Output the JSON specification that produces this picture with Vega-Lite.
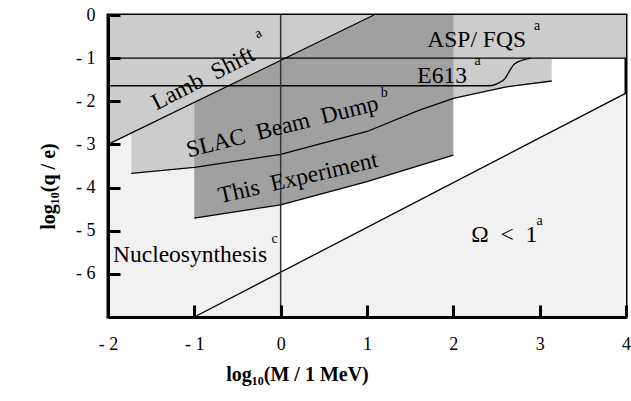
{
  "$schema": "https://vega.github.io/schema/vega-lite/v6.json",
  "width": 518,
  "height": 302,
  "autosize": {"type": "none"},
  "padding": {"left": 108, "top": 15, "right": 5, "bottom": 84},
  "background": "white",
  "config": {
    "view": {"stroke": "black", "strokeWidth": 3},
    "font": "Liberation Serif",
    "text": {"font": "Liberation Serif", "color": "black"}
  },
  "datasets": {
    "nucleo": [{"x": -2, "y": -7}, {"x": 0, "y": -7}],
    "omega": [{"x": -1, "y": -7}, {"x": 4, "y": -1.81}],
    "asp": [{"x": -2, "y": -1}, {"x": 4, "y": -1}],
    "slac": [
      {"x": -1.73, "y": -3.67}, {"x": -1, "y": -3.53}, {"x": 0, "y": -3.23},
      {"x": 1, "y": -2.7}, {"x": 1.6, "y": -2.21}, {"x": 2.0, "y": -1.93},
      {"x": 2.6, "y": -1.67}, {"x": 3.14, "y": -1.53}
    ],
    "dark": [{"x": -1, "y": -4.71}, {"x": 0, "y": -4.4}, {"x": 1, "y": -3.86}, {"x": 2, "y": -3.25}],
    "lamb": [{"x": -2, "y": -3.0}, {"x": 1.08, "y": 0}],
    "lines": [
      {"series": "slac", "x": -1.73, "y": -3.67}, {"series": "slac", "x": -1, "y": -3.53},
      {"series": "slac", "x": 0, "y": -3.23}, {"series": "slac", "x": 1, "y": -2.7},
      {"series": "slac", "x": 1.6, "y": -2.21}, {"series": "slac", "x": 2.0, "y": -1.93},
      {"series": "slac", "x": 2.6, "y": -1.67}, {"series": "slac", "x": 3.14, "y": -1.53},
      {"series": "dark", "x": -1, "y": -4.71}, {"series": "dark", "x": 0, "y": -4.4},
      {"series": "dark", "x": 1, "y": -3.86}, {"series": "dark", "x": 2, "y": -3.25},
      {"series": "lamb", "x": -2, "y": -3.0}, {"series": "lamb", "x": 1.08, "y": 0},
      {"series": "omega", "x": -1, "y": -7}, {"series": "omega", "x": 4, "y": -1.81},
      {"series": "h1", "x": -2, "y": -1}, {"series": "h1", "x": 4, "y": -1}
    ],
    "e613": [
      {"x": -2, "y": -1.64}, {"x": 2.42, "y": -1.64}, {"x": 2.51, "y": -1.59},
      {"x": 2.6, "y": -1.47}, {"x": 2.65, "y": -1.3}, {"x": 2.7, "y": -1.15},
      {"x": 2.78, "y": -1.06}, {"x": 2.9, "y": -1.0}
    ],
    "vline": [{"x": 0, "y": -7}, {"x": 0, "y": 0}],
    "flatText": [
      {"label": "ASP/ FQS", "x": 2.27, "y": -0.74},
      {"label": "E613", "x": 1.87, "y": -1.57},
      {"label": "Nucleosynthesis", "x": -1.05, "y": -5.72},
      {"label": "Ω\u00a0\u00a0<\u00a0\u00a01", "x": 2.59, "y": -5.25}
    ],
    "sups": [
      {"label": "a", "x": 2.97, "y": -0.35},
      {"label": "a", "x": 2.28, "y": -1.16},
      {"label": "c", "x": -0.07, "y": -5.28},
      {"label": "a", "x": 3.0, "y": -4.86},
      {"label": "b", "x": 1.2, "y": -1.9}
    ],
    "lambText": [{"label": "Lamb\u00a0\u00a0Shift", "x": -0.86, "y": -1.62}],
    "lambSup": [{"label": "a", "x": -0.24, "y": -0.51}],
    "slacText": [{"label": "SLAC\u00a0\u00a0Beam\u00a0\u00a0Dump", "x": 0.04, "y": -2.75}],
    "expText": [{"label": "This\u00a0\u00a0Experiment", "x": 0.22, "y": -3.94}]
  },
  "encoding": {
    "x": {
      "field": "x", "type": "quantitative",
      "scale": {"domain": [-2, 4], "nice": false, "zero": false},
      "axis": {
        "values": [-2, -1, 0, 1, 2, 3, 4],
        "labelExpr": "datum.value < 0 ? '- ' + (-datum.value) : '' + datum.value",
        "tickSize": -12, "tickWidth": 3, "tickColor": "black",
        "domainWidth": 3, "domainColor": "black",
        "labelFont": "Liberation Serif", "labelFontSize": 18, "labelColor": "black",
        "labelPadding": 30, "labelFlush": false, "labelOverlap": false,
        "grid": false, "zindex": 1,
        "title": "log₁₀(M / 1 MeV)",
        "titleFont": "Liberation Serif", "titleFontSize": 20, "titleFontWeight": "bold", "titleColor": "black",
        "titleX": 189, "titleY": 57, "titleAlign": "center", "titleBaseline": "middle", "titleAnchor": null
      }
    },
    "y": {
      "field": "y", "type": "quantitative",
      "scale": {"domain": [-7, 0], "nice": false, "zero": false},
      "axis": {
        "values": [-6, -5, -4, -3, -2, -1, 0],
        "labelExpr": "datum.value < 0 ? '- ' + (-datum.value) : '' + datum.value",
        "tickSize": -12, "tickWidth": 3, "tickColor": "black",
        "domainWidth": 3, "domainColor": "black",
        "labelFont": "Liberation Serif", "labelFontSize": 18, "labelColor": "black",
        "labelPadding": 25, "labelFlush": false, "labelOverlap": false,
        "grid": false, "zindex": 1,
        "title": "log₁₀(q / e)",
        "titleFont": "Liberation Serif", "titleFontSize": 20, "titleFontWeight": "bold", "titleColor": "black",
        "titleX": -60, "titleY": 171, "titleAngle": 270, "titleAlign": "center", "titleBaseline": "middle"
      }
    }
  },
  "layer": [
    {"data": {"name": "nucleo"}, "mark": {"type": "area", "color": "#f1f1f1"}, "encoding": {"y2": {"datum": 0}}},
    {"data": {"name": "omega"}, "mark": {"type": "area", "color": "#f1f1f1"}, "encoding": {"y2": {"datum": -7}}},
    {"data": {"name": "asp"}, "mark": {"type": "area", "color": "#cccccc"}, "encoding": {"y2": {"datum": 0}}},
    {"data": {"name": "slac"}, "mark": {"type": "area", "color": "#cccccc"}, "encoding": {"y2": {"datum": 0}}},
    {"data": {"name": "dark"}, "mark": {"type": "area", "color": "#a0a0a0"}, "encoding": {"y2": {"datum": 0}}},
    {"data": {"name": "lamb"}, "mark": {"type": "area", "color": "#cccccc"}, "encoding": {"y2": {"datum": 0}}},
    {"data": {"name": "lines"}, "mark": {"type": "line", "color": "black", "strokeWidth": 1.3}, "encoding": {"detail": {"field": "series"}}},
    {"data": {"name": "e613"}, "mark": {"type": "line", "color": "black", "strokeWidth": 1.3, "interpolate": "monotone"}, "encoding": {}},
    {"data": {"name": "vline"}, "mark": {"type": "line", "color": "#333333", "strokeWidth": 1.5}, "encoding": {}},
    {"data": {"name": "flatText"}, "mark": {"type": "text", "fontSize": 23.5, "align": "center", "baseline": "alphabetic"}, "encoding": {"text": {"field": "label"}}},
    {"data": {"name": "sups"}, "mark": {"type": "text", "fontSize": 14, "align": "center", "baseline": "alphabetic"}, "encoding": {"text": {"field": "label"}}},
    {"data": {"name": "lambText"}, "mark": {"type": "text", "fontSize": 23.5, "align": "center", "baseline": "alphabetic", "angle": 333}, "encoding": {"text": {"field": "label"}}},
    {"data": {"name": "lambSup"}, "mark": {"type": "text", "fontSize": 14, "align": "center", "baseline": "alphabetic", "angle": 333}, "encoding": {"text": {"field": "label"}}},
    {"data": {"name": "slacText"}, "mark": {"type": "text", "fontSize": 23.5, "align": "center", "baseline": "alphabetic", "angle": 346}, "encoding": {"text": {"field": "label"}}},
    {"data": {"name": "expText"}, "mark": {"type": "text", "fontSize": 23.5, "align": "center", "baseline": "alphabetic", "angle": 347}, "encoding": {"text": {"field": "label"}}}
  ]
}
